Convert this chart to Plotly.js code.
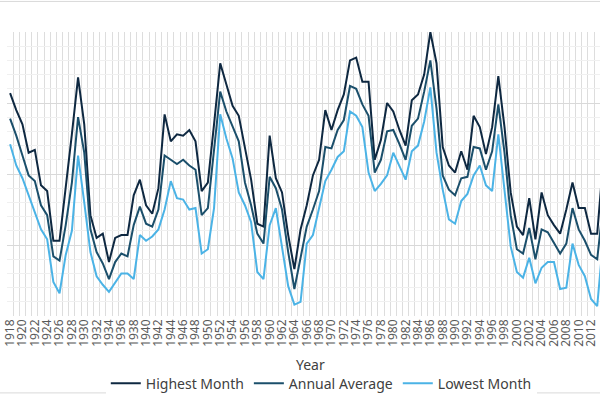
<!DOCTYPE html>
<html>
<head>
<meta charset="utf-8">
<script src="https://cdn.plot.ly/plotly-3.0.1.min.js"></script>
<style>
html,body{margin:0;padding:0;background:#fff;}
#chart{width:600px;height:400px;}
</style>
</head>
<body>
<div id="chart"></div>
<script>
const firstYear = 1918;
const highestMonth = [
177.07,176.95,176.85,176.65,176.67,176.42,176.38,176.03,176.03,176.39,
176.78,177.18,176.85,176.21,176.05,176.08,175.88,176.05,176.07,176.07,
176.35,176.46,176.28,176.22,176.40,176.92,176.73,176.78,176.77,176.81,
176.73,176.38,176.44,176.85,177.28,177.13,176.98,176.91,176.68,176.46,
176.15,176.13,176.77,176.47,176.37,176.07,175.83,176.11,176.28,176.49,
176.60,176.95,176.81,176.95,177.06,177.30,177.32,177.15,177.15,176.60,
176.74,177.00,176.94,176.81,176.70,177.02,177.06,177.20,177.50,177.28,
176.69,176.56,176.51,176.66,176.53,176.91,176.83,176.64,176.83,177.19,
176.83,176.37,176.13,176.07,176.33,176.04,176.37,176.21,176.14,176.08,
176.25,176.44,176.26,176.26,176.08,176.08,176.61];
const annualAverage = [
176.89,176.77,176.63,176.49,176.45,176.28,176.21,175.92,175.89,176.14,
176.44,176.90,176.65,176.11,175.95,175.87,175.76,175.88,175.94,175.92,
176.14,176.27,176.15,176.13,176.25,176.63,176.60,176.57,176.60,176.56,
176.53,176.21,176.26,176.69,177.08,176.94,176.83,176.73,176.44,176.28,
176.08,176.01,176.48,176.40,176.25,175.95,175.69,175.92,176.13,176.25,
176.38,176.69,176.68,176.81,176.88,177.12,177.10,176.99,176.91,176.51,
176.60,176.80,176.81,176.71,176.60,176.84,176.89,177.08,177.30,176.96,
176.49,176.39,176.35,176.47,176.48,176.69,176.68,176.53,176.66,176.99,
176.65,176.21,175.97,175.94,176.12,175.90,176.11,176.09,176.01,175.94,
176.01,176.26,176.11,176.03,175.93,175.90,176.30];
const lowestMonth = [
176.71,176.56,176.47,176.35,176.23,176.11,176.04,175.74,175.66,175.93,
176.10,176.63,176.30,175.95,175.78,175.72,175.67,175.74,175.80,175.80,
175.76,176.07,176.03,176.06,176.11,176.25,176.45,176.33,176.32,176.25,
176.26,175.94,175.97,176.26,176.92,176.75,176.61,176.37,176.28,176.16,
175.81,175.76,176.14,176.26,175.97,175.71,175.58,175.60,176.01,176.07,
176.26,176.45,176.53,176.62,176.66,176.94,176.91,176.83,176.51,176.38,
176.43,176.49,176.65,176.55,176.46,176.66,176.70,176.87,177.11,176.65,
176.39,176.18,176.15,176.31,176.36,176.49,176.56,176.42,176.38,176.78,
176.40,175.99,175.81,175.77,175.91,175.73,175.84,175.88,175.88,175.69,
175.70,176.01,175.86,175.78,175.62,175.57,176.06];
const years = highestMonth.map((_, i) => firstYear + i);
const seriesNames = ['Highest Month', 'Annual Average', 'Lowest Month'];
const seriesColors = ['#0E2841', '#1B4F6B', '#4BB3E6'];
const seriesValues = [highestMonth, annualAverage, lowestMonth];

const font = "'Noto Sans', 'Liberation Sans', sans-serif";
const traces = seriesValues.map((vals, i) => ({
  type: 'scatter', mode: 'lines', x: years, y: vals, name: seriesNames[i],
  line: {color: seriesColors[i], width: 2}, hoverinfo: 'skip'
}));

const layout = {
  width: 600, height: 400,
  margin: {l: 7, r: 0, t: 32, b: 80},
  paper_bgcolor: '#fff', plot_bgcolor: '#fff',
  showlegend: true,
  legend: {orientation: 'h', x: 0.53, xanchor: 'center', y: -0.238, yanchor: 'middle',
    font: {family: font, size: 14, color: '#404040'}, itemwidth: 30, tracegroupgap: 0},
  xaxis: {
    range: [1917.5, 2013.45], tickmode: 'linear', tick0: 1918, dtick: 2,
    tickangle: -90, ticks: '', showgrid: false, zeroline: false,
    tickfont: {family: font, size: 12, color: '#595959'},
    showline: false,
    minor: {tick0: 1917.5, dtick: 1, showgrid: true, gridcolor: '#DDDDDD', gridwidth: 1, ticks: ''}
  },
  yaxis: {
    range: [175.5, 177.5], dtick: 0.5, tick0: 175.5, showticklabels: false,
    gridcolor: '#D9D9D9', gridwidth: 1, zeroline: false, ticks: '',
    minor: {dtick: 0.1, showgrid: true, gridcolor: '#F0F0F0', gridwidth: 1, ticks: ''}
  },
  annotations: [{
    text: 'Year', xref: 'paper', yref: 'paper', x: 0.511, y: -0.17,
    xanchor: 'center', yanchor: 'middle', showarrow: false,
    font: {family: font, size: 14, color: '#404040'}
  }],
  shapes: [
    {type: 'line', xref: 'paper', yref: 'paper', x0: -0.02, x1: 1.01, y0: 1.1076, y1: 1.1076,
     line: {color: '#D9D9D9', width: 1}},
    {type: 'line', xref: 'paper', yref: 'paper', x0: -0.02, x1: 1.01, y0: -0.2708, y1: -0.2708,
     line: {color: '#D9D9D9', width: 1}}
  ]
};
Plotly.newPlot('chart', traces, layout, {displayModeBar: false, staticPlot: true});
</script>
</body>
</html>
